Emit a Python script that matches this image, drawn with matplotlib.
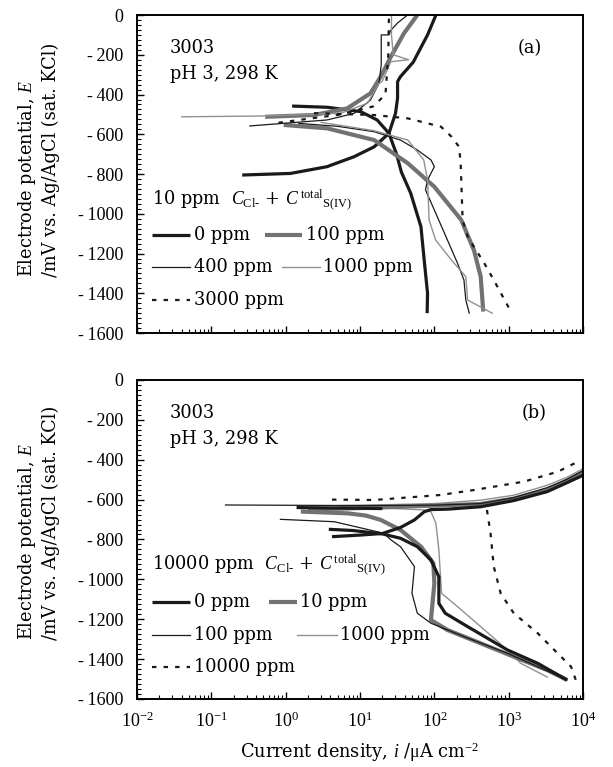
import matplotlib
matplotlib.use('Agg')
import matplotlib.pyplot as plt
from matplotlib.ticker import MultipleLocator, LogLocator, NullFormatter, FuncFormatter

plt.rcParams['font.family'] = ['Liberation Serif', 'DejaVu Serif']
plt.rcParams['mathtext.fontset'] = 'custom'
plt.rcParams['mathtext.rm'] = 'Liberation Serif'
plt.rcParams['mathtext.it'] = 'Liberation Serif:italic'
plt.rcParams['axes.unicode_minus'] = False
plt.rcParams['font.size'] = 13

TXT = 'DejaVu Serif'   # wide serif for labels and notes
FS = 12.8

# ---- data, current density in uA/cm2, potential in mV ----
# panel (a): 10 ppm
a0_an_i = [0.26, 1.16, 3.6, 8.3, 15.5, 24.5, 30, 32, 32, 35, 52, 81, 105]
a0_an_E = [-805, -797, -763, -713, -663, -595, -495, -418, -335, -310, -237, -100, 0]
a0_ca_i = [1.22, 3.6, 10.2, 17, 24.5, 31, 36, 48, 66, 73, 81, 80]
a0_ca_E = [-458, -464, -486, -528, -595, -700, -790, -896, -1065, -1233, -1400, -1500]

a100_an_i = [0.53, 2.4, 6.7, 13.8, 19, 26, 39, 59]
a100_an_E = [-512, -503, -470, -394, -310, -210, -92, 0]
a100_ca_i = [0.94, 3.6, 15.5, 44, 100, 230, 340, 420, 455]
a100_ca_E = [-553, -570, -629, -746, -864, -1031, -1182, -1316, -1492]

a400_an_i = [0.33, 3.6, 8.3, 13.8, 18, 19.3, 19.3, 24.5, 26, 32, 43.5]
a400_an_E = [-558, -528, -495, -428, -344, -250, -100, -100, -76, -40, 0]
a400_ca_i = [1.5, 5, 15.5, 35, 59, 90, 100, 81, 76, 100, 150, 205, 250, 265, 295]
a400_ca_E = [-545, -560, -587, -629, -679, -729, -763, -830, -880, -981, -1132, -1249, -1333, -1434, -1500]

a1000_an_i = [0.04, 0.5, 5.5, 12.6, 18, 19.8, 26, 45, 28, 26.5, 26.5]
a1000_an_E = [-512, -508, -494, -444, -344, -335, -235, -225, -200, -100, 0]
a1000_ca_i = [3, 15.5, 44, 72, 81, 85, 104, 170, 265, 280, 600]
a1000_ca_E = [-540, -582, -629, -729, -830, -1031, -1132, -1233, -1316, -1434, -1500]

a3000_an_i = [0.8, 5.5, 15, 22, 24, 24.5]
a3000_an_E = [-542, -500, -460, -400, -200, 0]
a3000_ca_i = [2.4, 15.5, 44, 123, 170, 215, 226, 240, 280, 470, 630, 1070]
a3000_ca_E = [-494, -503, -520, -562, -612, -663, -746, -1031, -1115, -1249, -1333, -1492]

# panel (b): 10000 ppm
b0_ca_i = [3.8, 8, 20, 35, 59, 90, 115, 115, 140, 280, 960, 2450, 6100]
b0_ca_E = [-749, -755, -772, -794, -836, -903, -987, -1120, -1170, -1237, -1354, -1421, -1505]
b0_an_i = [4.2, 10, 20, 35, 54, 73, 90, 150, 420, 1170, 3300, 6100, 10000]
b0_an_E = [-786, -778, -770, -740, -702, -661, -650, -648, -636, -605, -560, -515, -478]
b0_x_i = [1.4, 7, 20]
b0_x_E = [-640, -643, -645]

b10_ca_i = [1.6, 6.8, 12, 19, 35, 66, 97, 100, 90, 150, 420, 1170, 3300, 6100]
b10_ca_E = [-660, -669, -680, -702, -752, -836, -919, -1020, -1204, -1254, -1321, -1388, -1455, -1505]
b10_an_i = [2, 6, 17, 100, 420, 1170, 3300, 6100, 10000]
b10_an_E = [-648, -645, -640, -630, -622, -595, -550, -505, -462]

b100_an_i = [0.155, 10, 100, 420, 1170, 3300, 6100, 10000]
b100_an_E = [-627, -630, -628, -620, -590, -540, -498, -455]
b100_ca_i = [0.85, 4.5, 21, 26, 35, 54, 50, 59, 90, 250, 960, 2450, 6100]
b100_ca_E = [-699, -711, -769, -802, -836, -936, -1070, -1170, -1220, -1287, -1371, -1438, -1505]

b1000_an_i = [5, 20, 100, 420, 1170, 3300, 6100, 10000]
b1000_an_E = [-630, -626, -620, -603, -578, -528, -488, -445]
b1000_ca_i = [5.5, 30, 73, 90, 105, 115, 125, 205, 420, 960, 1450, 3300]
b1000_ca_E = [-636, -645, -652, -661, -719, -853, -1070, -1137, -1237, -1354, -1421, -1490]

b10000_an_i = [4.2, 15.5, 120, 340, 1600, 4600, 8500]
b10000_an_E = [-600, -602, -577, -552, -510, -460, -410]
b10000_ca_i = [510, 570, 630, 780, 1170, 2450, 4100, 6900, 8000]
b10000_ca_E = [-652, -769, -936, -1070, -1170, -1270, -1354, -1438, -1505]

# line styles
S_BK = dict(color='#1a1a1a', lw=2.3, solid_capstyle='butt')
S_GT = dict(color='#727272', lw=3.0, solid_capstyle='butt')
S_TH = dict(color='#1a1a1a', lw=0.9)
S_GR = dict(color='#909090', lw=1.0)
S_DT = dict(color='#1a1a1a', lw=1.6, linestyle=(0, (2, 3.2)))

fig = plt.figure(figsize=(6.13, 7.67), dpi=100)
ax_a = fig.add_axes([0.2235, 0.5658, 0.7276, 0.4146])
ax_b = fig.add_axes([0.2235, 0.0887, 0.7276, 0.4159])

curves_a = [
    (a0_an_i, a0_an_E, S_BK), (a0_ca_i, a0_ca_E, S_BK),
    (a100_an_i, a100_an_E, S_GT), (a100_ca_i, a100_ca_E, S_GT),
    (a400_an_i, a400_an_E, S_TH), (a400_ca_i, a400_ca_E, S_TH),
    (a1000_an_i, a1000_an_E, S_GR), (a1000_ca_i, a1000_ca_E, S_GR),
    (a3000_an_i, a3000_an_E, S_DT), (a3000_ca_i, a3000_ca_E, S_DT),
]
curves_b = [
    (b10000_an_i, b10000_an_E, S_DT), (b10000_ca_i, b10000_ca_E, S_DT),
    (b1000_an_i, b1000_an_E, S_GR), (b1000_ca_i, b1000_ca_E, S_GR),
    (b10_an_i, b10_an_E, S_GT), (b10_ca_i, b10_ca_E, S_GT),
    (b0_an_i, b0_an_E, S_BK), (b0_ca_i, b0_ca_E, S_BK), (b0_x_i, b0_x_E, S_BK),
    (b100_an_i, b100_an_E, S_TH), (b100_ca_i, b100_ca_E, S_TH),
]

ylab = 'Electrode potential, $E$\n/mV vs. Ag/AgCl (sat. KCl)'


def mv_fmt(v, pos):
    # the original prints a hyphen with a small gap before the digits
    return '0' if v == 0 else '-\u2009%d' % abs(v)


for ax, curves in [(ax_a, curves_a), (ax_b, curves_b)]:
    for i, E, st in curves:
        ax.plot(i, E, **st)
    ax.set_xscale('log')
    ax.set_xlim(1e-2, 1e4)
    ax.set_ylim(-1600, 0)
    ax.yaxis.set_major_locator(MultipleLocator(200))
    ax.yaxis.set_minor_locator(MultipleLocator(25))
    ax.yaxis.set_major_formatter(FuncFormatter(mv_fmt))
    ax.xaxis.set_major_locator(LogLocator(base=10, numticks=10))
    ax.xaxis.set_minor_locator(LogLocator(base=10, subs=range(2, 10), numticks=20))
    ax.xaxis.set_minor_formatter(NullFormatter())
    ax.tick_params(which='both', direction='in', top=False, right=False)
    ax.tick_params(which='major', length=5, width=1)
    ax.tick_params(which='minor', length=3, width=0.8)
    ax.tick_params(axis='y', pad=10, labelsize=13)
    ax.tick_params(axis='x', pad=9, labelsize=13)
    for sp in ax.spines.values():
        sp.set_linewidth(1.4)
    ax.text(0.074, 0.896, '3003', transform=ax.transAxes, va='center', fontsize=FS, family=TXT)
    ax.text(0.074, 0.814, 'pH 3, 298 K', transform=ax.transAxes, va='center', fontsize=FS, family=TXT)

ax_a.tick_params(axis='x', labelbottom=False)

ax_a.text(0.881, 0.896, '(a)', transform=ax_a.transAxes, ha='center', va='center', fontsize=FS, family=TXT)
ax_b.text(0.89, 0.897, '(b)', transform=ax_b.transAxes, ha='center', va='center', fontsize=FS, family=TXT)

ax_a.text(-0.222, 0.176, ylab, transform=ax_a.transAxes, rotation=90, family=TXT,
          ha='center', va='bottom', multialignment='left', fontsize=FS, linespacing=1.3)
ax_b.text(-0.222, 0.185, ylab, transform=ax_b.transAxes, rotation=90, family=TXT,
          ha='center', va='bottom', multialignment='left', fontsize=FS, linespacing=1.3)
ax_b.set_xlabel(r'Current density, $i$ /$\mathrm{\mu}$A cm$^{-2}$', fontsize=FS,
                family=TXT, labelpad=7)

conc = r'$C_{\mathrm{Cl}\text{-}}$ + $C^{\,\mathrm{total}}{}_{\mathrm{S(IV)}}$'


def manual_legend(ax, title, ty, rows):
    ax.text(0.034, ty, title + '  ' + conc, transform=ax.transAxes, va='center',
            fontsize=FS, family=TXT)
    for x0, x1, y, st, lab in rows:
        ax.plot([x0, x1], [y, y], transform=ax.transAxes, **st)
        ax.text(x1 + 0.008, y, lab, transform=ax.transAxes, va='center',
                fontsize=FS, family=TXT)


manual_legend(ax_a, '10 ppm', 0.418, [
    (0.034, 0.119, 0.308, S_BK, '0 ppm'),
    (0.287, 0.370, 0.308, S_GT, '100 ppm'),
    (0.034, 0.119, 0.208, S_TH, '400 ppm'),
    (0.325, 0.410, 0.208, S_GR, '1000 ppm'),
    (0.034, 0.119, 0.104, S_DT, '3000 ppm'),
])
manual_legend(ax_b, '10000 ppm', 0.42, [
    (0.034, 0.119, 0.304, S_BK, '0 ppm'),
    (0.296, 0.358, 0.304, S_GT, '10 ppm'),
    (0.034, 0.119, 0.200, S_TH, '100 ppm'),
    (0.359, 0.448, 0.200, S_GR, '1000 ppm'),
    (0.034, 0.119, 0.100, S_DT, '10000 ppm'),
])

fig.savefig('out.png', dpi=100)
